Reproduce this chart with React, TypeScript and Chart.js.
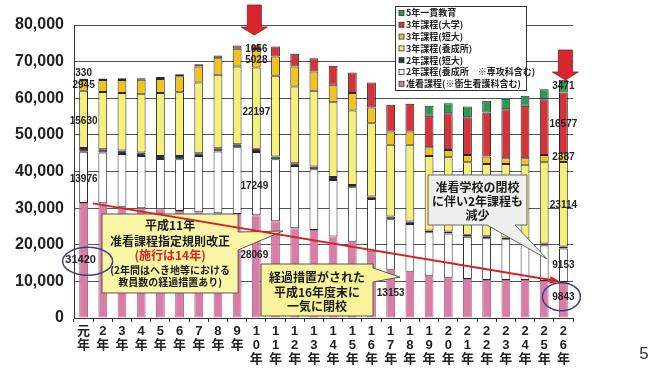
import React, { useEffect, useRef } from 'react';
import { Chart, registerables } from 'chart.js';

Chart.register(...registerables);

// ---- data (平成 元年〜26年) ----
const CATEGORIES = ['元年','2年','3年','4年','5年','6年','7年','8年','9年','10年','11年','12年','13年','14年','15年','16年','17年','18年','19年','20年','21年','22年','23年','24年','25年','26年'];
const JUNKAN = [31420, 31300, 30400, 30000, 29700, 29200, 28900, 28600, 28400, 28069, 26430, 24500, 24040, 22220, 20850, 18120, 13153, 12650, 11560, 11020, 10660, 10380, 10380, 10380, 10110, 9843];
const NI_YOSEI = [13976, 13860, 14400, 14260, 13740, 14160, 15360, 16840, 18240, 17249, 16930, 17030, 16590, 15480, 14850, 14390, 13807, 13040, 11840, 12080, 11540, 11420, 11120, 10820, 9700, 9153];
const NI_TANDAI = [1000, 930, 900, 900, 820, 900, 740, 920, 820, 900, 720, 740, 720, 830, 640, 640, 730, 630, 500, 500, 500, 500, 500, 500, 500, 500];
const SAN_YOSEI = [15630, 15600, 15700, 15960, 17140, 17410, 19290, 20030, 21200, 22197, 22040, 20930, 20670, 20400, 20340, 20040, 19580, 20950, 20360, 20300, 19840, 19780, 20080, 20110, 22230, 23114];
const SAN_TANDAI = [2945, 3300, 3600, 3900, 3870, 4360, 4370, 4560, 4840, 5028, 5290, 5460, 5280, 4730, 4720, 4270, 3650, 3650, 2380, 2000, 1990, 2000, 1550, 1820, 1990, 2387];
const SAN_DAIGAKU = [330, 400, 450, 470, 500, 550, 640, 720, 900, 1056, 2730, 3470, 3650, 5190, 5620, 6830, 7280, 7550, 8560, 10030, 10310, 12040, 13380, 14290, 15220, 16577];
const GO_IKKAN = [null, null, null, null, null, null, null, null, null, null, null, null, null, null, null, null, null, null, 2720, 2730, 2900, 3170, 2830, 2740, 2730, 3471];
const Y_TICKS = [0, 10000, 20000, 30000, 40000, 50000, 60000, 70000, 80000];

const SERIES_NAMES = ['准看課程(※衛生看護科含む)', '2年課程(養成所　※専攻科含む)', '2年課程(短大)', '3年課程(養成所)', '3年課程(短大)', '3年課程(大学)', '5年一貫教育'];
const SERIES_DATA = [JUNKAN, NI_YOSEI, NI_TANDAI, SAN_YOSEI, SAN_TANDAI, SAN_DAIGAKU, GO_IKKAN];
const SERIES_COLORS = ['#d77ea5', '#ffffff', '#2c3550', '#f6f07a', '#f2c21e', '#d2343a', '#2c9a52'];
const SERIES_BORDERS = ['#c0668c', '#2a2a2a', '#2a2a2a', '#2a2a2a', '#2a2a2a', '#2a2a2a', '#2a2a2a'];

// value labels: dataset index, category index, vertical nudge
const VALUE_LABELS = [
  { ds: 5, i: 0, dy: 0, above: true },
  { ds: 4, i: 0, dy: 0 },
  { ds: 3, i: 0, dy: 2 },
  { ds: 1, i: 0, dy: 2 },
  { ds: 0, i: 0, dy: 0, dx: -3, size: 11 },
  { ds: 5, i: 9, dy: 2 },
  { ds: 4, i: 9, dy: 2.5 },
  { ds: 3, i: 9, dy: 4 },
  { ds: 1, i: 9, dy: 2.5, dx: -2 },
  { ds: 0, i: 9, dy: -11, dx: -2 },
  { ds: 0, i: 16, dy: 0 },
  { ds: 6, i: 25, dy: 0 },
  { ds: 5, i: 25, dy: 1 },
  { ds: 4, i: 25, dy: 0 },
  { ds: 3, i: 25, dy: 1 },
  { ds: 1, i: 25, dy: 0 },
  { ds: 0, i: 25, dy: -2 },
];

const LEGEND_ORDER = [6, 5, 4, 3, 2, 1, 0];

const CJK = '"Noto Sans CJK JP", sans-serif';
const NUM = '"Liberation Sans", Arial, sans-serif';

function callout(ctx, pts, fill, stroke) {
  ctx.save();
  ctx.beginPath();
  pts.forEach((p, k) => (k === 0 ? ctx.moveTo(p[0], p[1]) : ctx.lineTo(p[0], p[1])));
  ctx.closePath();
  ctx.fillStyle = fill;
  ctx.fill();
  ctx.lineWidth = 1;
  ctx.strokeStyle = stroke;
  ctx.stroke();
  ctx.restore();
}

function text(ctx, s, x, y, font, color, align = 'center') {
  ctx.save();
  ctx.font = font;
  ctx.fillStyle = color;
  ctx.textAlign = align;
  ctx.textBaseline = 'middle';
  ctx.fillText(s, x, y);
  ctx.restore();
}

function downArrow(ctx, cx, top, headY, tip) {
  ctx.save();
  ctx.beginPath();
  ctx.moveTo(cx - 7, top);
  ctx.lineTo(cx + 7, top);
  ctx.lineTo(cx + 7, headY);
  ctx.lineTo(cx + 13, headY);
  ctx.lineTo(cx, tip);
  ctx.lineTo(cx - 13, headY);
  ctx.lineTo(cx - 7, headY);
  ctx.closePath();
  ctx.fillStyle = '#d8262e';
  ctx.fill();
  ctx.strokeStyle = '#8a1a1e';
  ctx.lineWidth = 0.8;
  ctx.stroke();
  ctx.restore();
}

const annotationPlugin = {
  id: 'annotations',
  afterDatasetsDraw(chart) {
    const ctx = chart.ctx;
    const xs = chart.scales.x;
    const ys = chart.scales.y;
    const px = (i) => xs.getPixelForValue(i);
    const py = (v) => ys.getPixelForValue(v);

    // callout 1 (yellow)
    {
      const l = px(0.96), r = px(8.05), t = py(28400), b = py(6830);
      callout(ctx, [[l, t], [r, t], [r, py(23480)], [px(10.39), py(23750)], [r, py(18570)], [r, b], [l, b]], '#fbf5a6', '#555');
      const cx = (l + r) / 2;
      text(ctx, '平成11年', cx, t + 11, `bold 12px ${CJK}`, '#1a1a1a');
      text(ctx, '准看課程指定規則改正', cx, t + 27, `bold 12px ${CJK}`, '#1a1a1a');
      text(ctx, '(施行は14年)', cx, t + 41, `bold 12px ${CJK}`, '#e0201c');
      text(ctx, '(2年間はへき地等における', cx, t + 56, `bold 10px ${CJK}`, '#1a1a1a');
      text(ctx, '教員数の経過措置あり)', cx, t + 68, `bold 10px ${CJK}`, '#1a1a1a');
    }
    // callout 2 (yellow)
    {
      const l = px(9.245), r = px(15.08), t = py(14740), b = py(550);
      callout(ctx, [[l, t], [r, t], [r, py(13650)], [px(16.49), py(11190)], [r, py(9830)], [r, b], [l, b]], '#fbf39a', '#555');
      const cx = (l + r) / 2;
      text(ctx, '経過措置がされた', cx, t + 13, `bold 12px ${CJK}`, '#1a1a1a');
      text(ctx, '平成16年度末に', cx, t + 28, `bold 12px ${CJK}`, '#1a1a1a');
      text(ctx, '一気に閉校', cx, t + 42, `bold 12px ${CJK}`, '#1a1a1a');
    }
    // callout 3 (gray)
    {
      const l = px(17.95), r = px(23.1), t = py(39050), b = py(25390);
      callout(ctx, [[l, t], [r, t], [r, b], [px(22.48), b], [px(24.15), py(16110)], [px(21.02), b], [l, b]], '#efefee', '#666');
      const cx = (l + r) / 2;
      text(ctx, '准看学校の閉校', cx, t + 12, `bold 12px ${CJK}`, '#1a1a1a');
      text(ctx, 'に伴い2年課程も', cx, t + 26, `bold 12px ${CJK}`, '#1a1a1a');
      text(ctx, '減少', cx, t + 40, `bold 12px ${CJK}`, '#1a1a1a');
    }

    // red trend line with arrow
    {
      const x1 = px(0.49), y1 = py(31300), x2 = px(24.66), y2 = py(10100);
      ctx.save();
      ctx.strokeStyle = '#d42128';
      ctx.lineWidth = 2;
      ctx.beginPath();
      ctx.moveTo(x1, y1);
      ctx.lineTo(x2, y2);
      ctx.stroke();
      const a = Math.atan2(y2 - y1, x2 - x1);
      ctx.fillStyle = '#d42128';
      ctx.beginPath();
      ctx.moveTo(x2 + 3 * Math.cos(a), y2 + 3 * Math.sin(a));
      ctx.lineTo(x2 - 7 * Math.cos(a) + 4 * Math.sin(a), y2 - 7 * Math.sin(a) - 4 * Math.cos(a));
      ctx.lineTo(x2 - 7 * Math.cos(a) - 4 * Math.sin(a), y2 - 7 * Math.sin(a) + 4 * Math.cos(a));
      ctx.closePath();
      ctx.fill();
      ctx.restore();
    }

    // value labels
    VALUE_LABELS.forEach((lb) => {
      const el = chart.getDatasetMeta(lb.ds).data[lb.i];
      const v = SERIES_DATA[lb.ds][lb.i];
      const y = lb.above ? el.y - 6 : (el.y + el.base) / 2 + (lb.dy || 0);
      text(ctx, String(v), el.x + (lb.dx || 0), y, `bold ${lb.size || 10}px ${NUM}`, '#1e1e1e');
    });

    // blue ellipses
    {
      const e1 = chart.getDatasetMeta(0).data[0];
      const e2 = chart.getDatasetMeta(0).data[25];
      ctx.save();
      ctx.strokeStyle = '#3b3f8f';
      ctx.lineWidth = 1.5;
      ctx.beginPath();
      ctx.ellipse(e1.x + 4, (e1.y + e1.base) / 2 + 1, 25, 14, 0, 0, Math.PI * 2);
      ctx.stroke();
      ctx.beginPath();
      ctx.ellipse(e2.x - 2, (e2.y + e2.base) / 2 - 3, 19, 14, 0, 0, Math.PI * 2);
      ctx.stroke();
      ctx.restore();
    }

    // red arrows
    downArrow(ctx, px(9) - 2, 5, 27, 35);
    downArrow(ctx, px(25) + 2, 50, 72, 80);

    // legend box
    {
      const lx = 395, ly = 6, lw = 131, lh = 84;
      ctx.save();
      ctx.fillStyle = '#ffffff';
      ctx.fillRect(lx, ly, lw, lh);
      ctx.strokeStyle = '#333';
      ctx.lineWidth = 1;
      ctx.strokeRect(lx + 0.5, ly + 0.5, lw, lh);
      ctx.restore();
      LEGEND_ORDER.forEach((ds, k) => {
        const yy = ly + 7 + k * 11.8;
        ctx.save();
        ctx.fillStyle = SERIES_COLORS[ds];
        ctx.fillRect(lx + 4, yy - 2.5, 5, 5);
        ctx.strokeStyle = '#333';
        ctx.lineWidth = 0.8;
        ctx.strokeRect(lx + 4, yy - 2.5, 5, 5);
        ctx.restore();
        text(ctx, SERIES_NAMES[ds], lx + 11, yy, `bold 9px ${CJK}`, '#222', 'left');
      });
    }

    // page number
    text(ctx, '5', 644, 354, `17px ${NUM}`, '#333');
  },
};

export default function App() {
  const ref = useRef(null);
  useEffect(() => {
    const canvas = ref.current;
    const chart = new Chart(canvas, {
      type: 'bar',
      data: {
        labels: CATEGORIES.map((c) => c.split('')),
        datasets: SERIES_DATA.map((d, k) => ({
          label: SERIES_NAMES[k],
          data: d,
          backgroundColor: SERIES_COLORS[k],
          borderColor: SERIES_BORDERS[k],
          borderWidth: 1,
          borderSkipped: false,
          barPercentage: 0.46,
          categoryPercentage: 1,
        })),
      },
      options: {
        animation: false,
        responsive: false,
        devicePixelRatio: 1,
        layout: { padding: { left: 0, right: 86, top: 25, bottom: 0 } },
        plugins: { legend: { display: false }, tooltip: { enabled: false } },
        scales: {
          x: {
            stacked: true,
            grid: { display: true, drawOnChartArea: false, drawTicks: true, tickLength: 4, color: '#333' },
            border: { display: true, color: '#333' },
            ticks: {
              autoSkip: false,
              maxRotation: 0,
              minRotation: 0,
              padding: 2,
              color: '#222',
              font: { family: '"Liberation Sans", "Noto Sans CJK JP", sans-serif', size: 13, weight: 'bold', lineHeight: 1.08 },
            },
            afterFit: (s) => { s.height = 50; },
          },
          y: {
            stacked: true,
            min: 0,
            max: 80000,
            afterBuildTicks: (s) => { s.ticks = Y_TICKS.map((v) => ({ value: v })); },
            grid: { color: '#555', drawTicks: false },
            border: { display: true, color: '#333' },
            ticks: {
              padding: 10,
              color: '#222',
              font: { family: NUM, size: 16, weight: 'bold' },
              callback: (v) => Number(v).toLocaleString('en-US'),
            },
            afterFit: (s) => { s.width = 74; },
          },
        },
      },
      plugins: [annotationPlugin],
    });
    return () => chart.destroy();
  }, []);
  return (
    <div style={{ position: 'absolute', left: 0, top: 0, width: 659, height: 368, background: '#fff' }}>
      <canvas ref={ref} width={659} height={368} />
    </div>
  );
}
